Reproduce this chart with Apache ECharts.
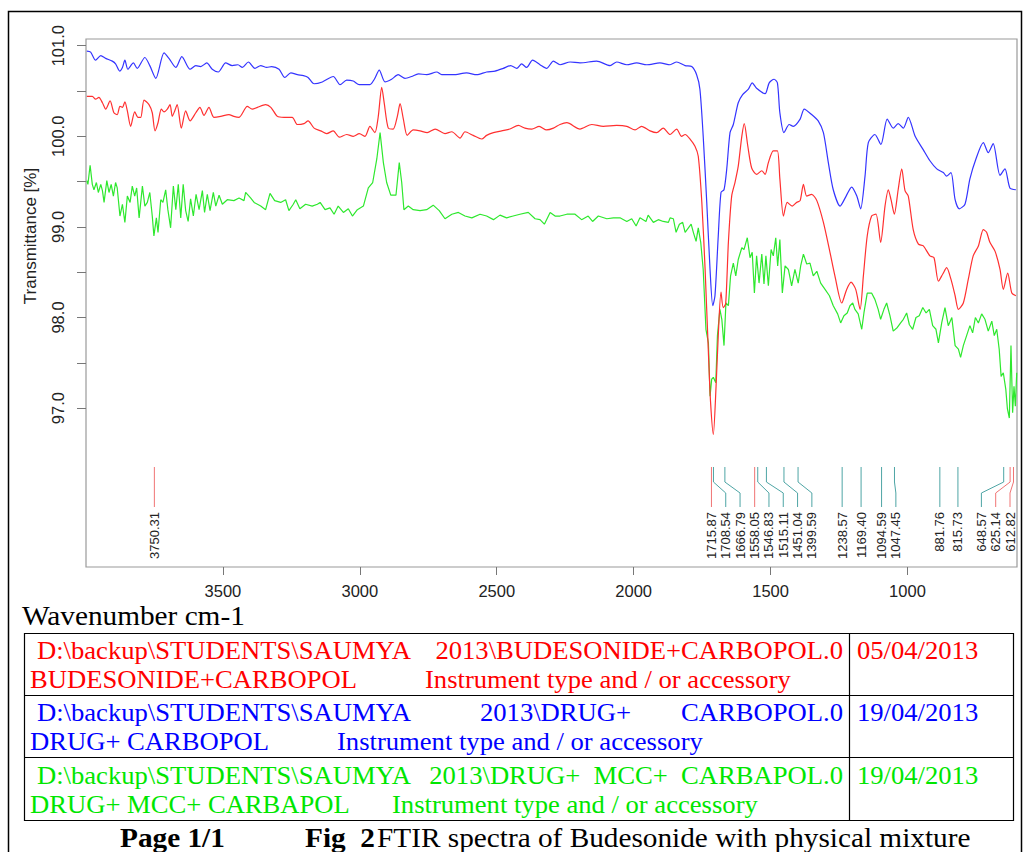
<!DOCTYPE html>
<html>
<head>
<meta charset="utf-8">
<script src="https://cdn.jsdelivr.net/npm/echarts@6/dist/echarts.min.js"></script>
<style>
html,body{margin:0;padding:0;background:#fff;}
#chart{width:1024px;height:852px;}
</style>
</head>
<body>
<div id="chart"></div>
<script>
// ---------- DATA ----------
const xTicks = [1000, 1500, 2000, 2500, 3000, 3500];
const yTicks = [97, 97.5, 98, 98.5, 99, 99.5, 100, 100.5, 101];
const yLabels = [97, 98, 99, 100, 101];

// DRUG+ CARBOPOL (blue)
const blueData = [[3997,100.94],[3983,100.93],[3965,100.84],[3946,100.89],[3928,100.86],[3904,100.83],[3892,100.80],[3877,100.72],[3867,100.76],[3858,100.84],[3847,100.74],[3827,100.81],[3813,100.75],[3785,100.87],[3767,100.78],[3745,100.64],[3715,100.92],[3697,100.86],[3672,100.76],[3650,100.88],[3620,100.74],[3599,100.78],[3581,100.77],[3559,100.81],[3539,100.74],[3517,100.71],[3490,100.81],[3466,100.78],[3445,100.79],[3429,100.76],[3407,100.82],[3383,100.75],[3362,100.78],[3340,100.76],[3322,100.77],[3295,100.74],[3274,100.65],[3252,100.70],[3228,100.68],[3206,100.67],[3189,100.65],[3167,100.58],[3137,100.60],[3097,100.66],[3072,100.57],[3048,100.62],[3024,100.61],[3002,100.57],[2963,100.57],[2947,100.63],[2929,100.73],[2908,100.60],[2884,100.63],[2860,100.68],[2835,100.64],[2811,100.66],[2786,100.69],[2756,100.68],[2719,100.71],[2701,100.68],[2659,100.68],[2610,100.70],[2573,100.68],[2537,100.71],[2506,100.72],[2476,100.75],[2449,100.78],[2427,100.75],[2409,100.80],[2391,100.76],[2369,100.84],[2342,100.79],[2318,100.75],[2293,100.83],[2269,100.79],[2232,100.82],[2196,100.81],[2135,100.83],[2086,100.78],[2062,100.82],[2025,100.79],[1989,100.81],[1952,100.79],[1904,100.81],[1867,100.79],[1843,100.82],[1812,100.78],[1788,100.77],[1770,100.68],[1758,100.52],[1746,100.00],[1733,99.27],[1721,98.53],[1711,98.13],[1703,98.24],[1691,98.90],[1681,99.38],[1670,99.41],[1660,99.64],[1648,100.04],[1636,100.13],[1618,100.37],[1602,100.46],[1581,100.52],[1567,100.59],[1551,100.53],[1520,100.47],[1505,100.59],[1487,100.63],[1475,100.59],[1466,100.26],[1451,100.04],[1432,100.13],[1417,100.11],[1392,100.19],[1377,100.30],[1350,100.24],[1326,100.17],[1307,100.04],[1289,99.71],[1271,99.41],[1246,99.23],[1224,99.34],[1204,99.44],[1185,99.34],[1171,99.20],[1155,99.56],[1143,99.93],[1119,100.02],[1097,99.91],[1074,100.19],[1052,100.09],[1034,100.14],[1015,100.09],[997,100.21],[972,100.00],[942,99.85],[918,99.73],[893,99.64],[869,99.60],[857,99.56],[841,99.60],[826,99.30],[811,99.20],[790,99.25],[772,99.53],[750,99.75],[723,99.93],[705,99.82],[687,99.92],[662,99.57],[644,99.64],[626,99.43],[604,99.41]];

// BUDESONIDE+CARBOPOL (red)
const redData = [[3997,100.44],[3977,100.44],[3965,100.41],[3953,100.43],[3940,100.37],[3928,100.30],[3912,100.39],[3898,100.26],[3886,100.24],[3876,100.33],[3867,100.32],[3858,100.38],[3849,100.28],[3837,100.11],[3822,100.27],[3810,100.21],[3800,100.21],[3788,100.40],[3770,100.35],[3758,100.26],[3748,100.06],[3737,100.15],[3725,100.30],[3715,100.27],[3703,100.30],[3693,100.35],[3685,100.22],[3676,100.28],[3667,100.35],[3652,100.09],[3636,100.28],[3620,100.17],[3599,100.26],[3584,100.32],[3569,100.23],[3551,100.32],[3533,100.21],[3508,100.22],[3478,100.24],[3460,100.22],[3441,100.21],[3411,100.33],[3393,100.30],[3374,100.32],[3344,100.35],[3325,100.32],[3301,100.22],[3277,100.21],[3247,100.21],[3228,100.13],[3204,100.14],[3189,100.17],[3167,100.09],[3143,100.06],[3121,100.03],[3097,100.06],[3075,99.99],[3048,100.02],[3024,100.00],[3002,100.03],[2981,100.00],[2963,100.11],[2945,100.04],[2933,100.21],[2920,100.54],[2911,100.37],[2896,100.09],[2878,100.08],[2863,100.22],[2853,100.36],[2841,100.19],[2827,100.01],[2805,100.07],[2780,100.06],[2754,100.04],[2725,100.08],[2689,100.03],[2664,100.05],[2634,99.98],[2616,100.05],[2586,100.01],[2555,99.97],[2537,100.01],[2512,100.04],[2482,100.06],[2452,100.08],[2421,100.12],[2397,100.09],[2372,100.08],[2345,100.11],[2318,100.07],[2293,100.09],[2269,100.13],[2244,100.15],[2196,100.08],[2153,100.13],[2111,100.11],[2062,100.12],[2025,100.11],[1995,100.07],[1971,100.11],[1940,100.06],[1916,100.04],[1892,100.09],[1867,100.02],[1843,100.08],[1825,100.00],[1812,100.02],[1794,99.97],[1776,99.89],[1764,99.78],[1751,99.27],[1739,98.53],[1727,97.61],[1719,97.06],[1709,96.71],[1699,97.24],[1691,97.80],[1681,98.28],[1673,98.11],[1664,98.15],[1654,98.83],[1642,99.34],[1630,99.49],[1618,99.67],[1605,100.00],[1596,100.14],[1583,99.89],[1569,99.65],[1551,99.58],[1532,99.62],[1520,99.58],[1508,99.71],[1490,99.84],[1475,99.84],[1466,99.53],[1453,99.12],[1439,99.27],[1421,99.23],[1405,99.27],[1392,99.29],[1380,99.47],[1368,99.34],[1350,99.36],[1331,99.29],[1307,99.05],[1283,98.72],[1265,98.46],[1240,98.16],[1222,98.31],[1206,98.39],[1189,98.31],[1173,98.09],[1161,98.46],[1147,98.90],[1131,99.12],[1115,99.14],[1098,98.83],[1082,99.23],[1070,99.41],[1060,99.30],[1048,99.14],[1034,99.41],[1021,99.64],[1009,99.40],[997,99.34],[979,98.97],[960,98.81],[942,98.79],[918,98.68],[903,98.66],[887,98.40],[871,98.48],[857,98.55],[841,98.42],[826,98.24],[814,98.09],[796,98.16],[778,98.42],[760,98.68],[741,98.79],[723,98.97],[711,98.94],[699,98.83],[680,98.73],[662,98.53],[650,98.31],[634,98.49],[619,98.27],[604,98.24]];

// DRUG+ MCC+ CARBAPOL (green)
const greenData = [[3997,99.51],[3993,99.47],[3985,99.68],[3977,99.47],[3971,99.41],[3962,99.49],[3955,99.38],[3946,99.47],[3940,99.40],[3934,99.27],[3924,99.51],[3916,99.38],[3908,99.47],[3900,99.34],[3892,99.49],[3886,99.43],[3876,99.12],[3867,99.25],[3858,99.05],[3849,99.34],[3839,99.27],[3831,99.45],[3822,99.34],[3815,99.43],[3806,99.10],[3794,99.45],[3785,99.23],[3776,99.27],[3767,99.38],[3758,99.12],[3752,98.90],[3743,99.10],[3737,98.94],[3727,99.30],[3719,99.27],[3709,99.41],[3701,99.19],[3691,98.99],[3681,99.45],[3672,99.19],[3663,99.47],[3654,99.10],[3645,99.47],[3636,99.18],[3627,99.06],[3618,99.31],[3608,99.12],[3598,99.36],[3587,99.19],[3575,99.40],[3567,99.16],[3557,99.36],[3547,99.18],[3535,99.38],[3526,99.23],[3514,99.35],[3502,99.25],[3484,99.30],[3460,99.29],[3441,99.32],[3423,99.29],[3417,99.38],[3399,99.32],[3386,99.27],[3362,99.23],[3344,99.19],[3328,99.37],[3311,99.29],[3289,99.27],[3271,99.30],[3259,99.18],[3243,99.25],[3234,99.30],[3219,99.20],[3198,99.25],[3174,99.23],[3155,99.25],[3145,99.27],[3127,99.19],[3109,99.21],[3094,99.14],[3079,99.23],[3060,99.16],[3042,99.20],[3027,99.12],[3009,99.19],[2987,99.23],[2969,99.43],[2953,99.49],[2938,99.75],[2926,100.04],[2914,99.71],[2902,99.49],[2887,99.35],[2868,99.35],[2856,99.71],[2847,99.49],[2839,99.19],[2823,99.23],[2805,99.19],[2780,99.18],[2756,99.19],[2732,99.24],[2710,99.18],[2689,99.09],[2664,99.14],[2640,99.16],[2616,99.12],[2591,99.10],[2561,99.14],[2537,99.12],[2512,99.08],[2488,99.13],[2464,99.10],[2440,99.12],[2415,99.14],[2385,99.16],[2360,99.09],[2342,99.08],[2326,99.03],[2305,99.16],[2287,99.12],[2269,99.12],[2244,99.14],[2214,99.14],[2190,99.08],[2166,99.12],[2150,99.06],[2129,99.12],[2098,99.09],[2074,99.10],[2050,99.10],[2025,99.06],[2007,99.09],[1991,99.01],[1977,99.10],[1955,99.06],[1947,99.13],[1928,99.05],[1910,99.08],[1892,99.06],[1873,99.05],[1867,99.10],[1855,99.09],[1845,98.94],[1833,99.03],[1821,99.05],[1812,98.94],[1800,98.99],[1790,99.03],[1782,98.94],[1772,98.84],[1764,98.99],[1755,98.83],[1746,98.53],[1736,97.87],[1727,97.72],[1721,97.13],[1715,97.32],[1709,97.34],[1700,97.28],[1694,97.80],[1685,98.09],[1678,97.98],[1670,97.69],[1663,98.16],[1654,98.13],[1646,98.46],[1636,98.60],[1627,98.46],[1618,98.64],[1605,98.77],[1597,98.75],[1585,98.88],[1575,98.66],[1567,98.72],[1559,98.27],[1551,98.68],[1542,98.38],[1532,98.70],[1524,98.37],[1517,98.68],[1508,98.35],[1498,98.75],[1490,98.68],[1481,98.88],[1474,98.57],[1466,98.86],[1457,98.27],[1447,98.57],[1435,98.53],[1423,98.35],[1411,98.53],[1399,98.38],[1390,98.57],[1380,98.70],[1368,98.59],[1356,98.60],[1344,98.46],[1331,98.51],[1317,98.38],[1301,98.31],[1285,98.24],[1271,98.13],[1255,98.04],[1244,97.94],[1232,98.02],[1220,98.05],[1210,98.13],[1200,98.16],[1192,98.09],[1180,98.04],[1167,97.87],[1159,98.05],[1147,98.27],[1131,98.27],[1119,98.20],[1107,98.09],[1098,97.98],[1086,98.09],[1076,98.16],[1064,98.02],[1052,97.85],[1037,97.89],[1025,97.94],[1015,97.98],[1003,98.05],[993,97.92],[981,97.87],[969,98.00],[957,98.02],[944,98.11],[932,98.05],[920,98.09],[908,97.91],[896,97.87],[887,97.72],[875,97.94],[863,98.11],[851,97.91],[838,98.00],[826,97.69],[814,97.65],[806,97.56],[796,97.69],[784,97.80],[772,97.91],[762,97.83],[752,98.00],[741,97.94],[729,98.04],[717,97.98],[705,97.85],[692,97.96],[683,97.80],[674,97.87],[665,97.65],[658,97.35],[650,97.39],[641,97.21],[635,96.99],[628,96.89],[622,97.69],[616,96.95],[611,97.24],[606,97.02],[601,97.39]];

// peak picks (wavenumber, marker colour group)
const peaks = [3750.31, 1715.87, 1708.54, 1666.79, 1558.05, 1546.83, 1515.11, 1451.04, 1399.59, 1238.57, 1169.40, 1094.59, 1047.45, 881.76, 815.73, 648.57, 625.14, 612.82];
const peakGroups = ['r','r','t','t','r','t','t','t','t','t','t','t','t','t','t','t','r','r'];

// ---------- CHART ----------
const chart = echarts.init(document.getElementById('chart'), null, {renderer: 'svg'});
const SERIF = '"Liberation Serif", "Times New Roman", serif';
const SANS = '"Liberation Sans", Arial, sans-serif';
const groupColor = {r: '#f07474', t: '#4ea5a5'};

function peakRender(params, api) {
  const cs = params.coordSys;
  const idx = params.dataIndex;
  const B = cs.y + cs.height;
  const right = cs.x + cs.width;
  const xs = peaks.map(p => api.coord([p, 96])[0]);
  const order = xs.map((x, i) => i).sort((a, b) => xs[a] - xs[b]);
  const gap = 14.3;
  const lab = new Array(xs.length);
  let prev = -Infinity;
  order.forEach(i => { lab[i] = Math.max(xs[i], prev + gap); prev = lab[i]; });
  let next = right - 7 + gap;
  for (let k = order.length - 1; k >= 0; k--) {
    const i = order[k];
    lab[i] = Math.min(lab[i], next - gap);
    next = lab[i];
  }
  const x = xs[idx], lx = lab[idx];
  const color = groupColor[peakGroups[idx]];
  return {
    type: 'group',
    children: [
      {type: 'polyline', shape: {points: [[x, B - 100], [x, B - 85], [lx, B - 74], [lx, B - 60]]},
       style: {stroke: color, lineWidth: 1, fill: null}},
      {type: 'text', x: lx, y: B - 55, rotation: Math.PI / 2,
       style: {text: peaks[idx].toFixed(2), fill: '#222', font: '13px ' + SANS,
               align: 'right', textAlign: 'right', verticalAlign: 'middle', textVerticalAlign: 'middle'}}
    ]
  };
}

function serifText(txt, x, y, color, size, opts) {
  opts = opts || {};
  return {
    type: 'text', x: x, y: y, scaleX: opts.sx || 1.065, scaleY: 1,
    style: {text: txt, fill: color, font: (opts.bold ? 'bold ' : '') + size + 'px ' + SERIF,
            textAlign: opts.align || 'left', textVerticalAlign: 'middle'}
  };
}

const RED = '#ff0000', BLUE = '#0000ff', GREEN = '#00e600';
const tL = 24, tR = 1013, tC = 849, rows = [633, 695, 757, 820];
const graphics = [
  {type: 'rect', shape: {x: 8.5, y: 11.5, width: 1013, height: 900}, style: {fill: null, stroke: '#000', lineWidth: 1.5}},
  {type: 'rect', shape: {x: tL + 0.5, y: rows[0] + 0.5, width: tR - tL, height: rows[3] - rows[0]}, style: {fill: null, stroke: '#000', lineWidth: 1.2}},
  {type: 'line', shape: {x1: tL, y1: rows[1] + 0.5, x2: tR, y2: rows[1] + 0.5}, style: {stroke: '#000', lineWidth: 1.2}},
  {type: 'line', shape: {x1: tL, y1: rows[2] + 0.5, x2: tR, y2: rows[2] + 0.5}, style: {stroke: '#000', lineWidth: 1.2}},
  {type: 'line', shape: {x1: tC + 0.5, y1: rows[0], x2: tC + 0.5, y2: rows[3]}, style: {stroke: '#000', lineWidth: 1.2}},
  {type: 'text', x: 30, y: 236, rotation: Math.PI / 2,
   style: {text: 'Transmittance [%]', fill: '#222', font: '17px ' + SANS, textAlign: 'center', textVerticalAlign: 'middle'}},
  serifText('Wavenumber cm-1', 22, 616, '#000', 27.5),
  serifText('D:\\backup\\STUDENTS\\SAUMYA', 37, 651, RED, 25),
  serifText('2013\\BUDESONIDE+CARBOPOL.0', 843, 651, RED, 25, {align: 'right'}),
  serifText('BUDESONIDE+CARBOPOL', 30, 680, RED, 25),
  serifText('Instrument type and / or accessory', 425, 680, RED, 25),
  serifText('05/04/2013', 857, 651, RED, 25),
  serifText('D:\\backup\\STUDENTS\\SAUMYA', 37, 713, BLUE, 25),
  serifText('2013\\DRUG+', 480, 713, BLUE, 25),
  serifText('CARBOPOL.0', 843, 713, BLUE, 25, {align: 'right'}),
  serifText('DRUG+ CARBOPOL', 30, 742, BLUE, 25),
  serifText('Instrument type and / or accessory', 337, 742, BLUE, 25),
  serifText('19/04/2013', 857, 713, BLUE, 25),
  serifText('D:\\backup\\STUDENTS\\SAUMYA', 37, 776, GREEN, 25),
  serifText('2013\\DRUG+  MCC+  CARBAPOL.0', 843, 776, GREEN, 25, {align: 'right'}),
  serifText('DRUG+ MCC+ CARBAPOL', 30, 805, GREEN, 25),
  serifText('Instrument type and / or accessory', 392, 805, GREEN, 25),
  serifText('19/04/2013', 857, 776, GREEN, 25),
  serifText('Page 1/1', 120, 838, '#000', 27.5, {bold: true}),
  serifText('Fig  2', 305, 838, '#000', 27.5, {bold: true}),
  serifText('FTIR spectra of Budesonide with physical mixture', 377, 838, '#000', 27.5)
];

const lineSeries = (name, data, color, smooth) => ({
  name: name, type: 'line', data: data, showSymbol: false, smooth: smooth,
  lineStyle: {color: color, width: 1.2}, itemStyle: {color: color}, z: 3, silent: true
});

chart.setOption({
  animation: false,
  backgroundColor: '#fff',
  grid: {left: 86, top: 39, right: 7, bottom: 285, show: true, borderColor: '#9a9a9a', borderWidth: 1.2,
         backgroundColor: 'transparent', outerBoundsMode: 'none', containLabel: false},
  xAxis: {
    type: 'value', inverse: true, min: 600, max: 4000,
    axisLine: {show: false}, splitLine: {show: false},
    axisTick: {show: true, customValues: xTicks, length: 8, lineStyle: {color: '#777'}},
    axisLabel: {customValues: xTicks, fontSize: 16.5, color: '#222', margin: 15, fontFamily: SANS,
                formatter: v => String(Math.round(v))}
  },
  yAxis: {
    type: 'value', min: 95.246, max: 101.074,
    axisLine: {show: false}, splitLine: {show: false},
    axisTick: {show: true, customValues: yTicks, length: 9, lineStyle: {color: '#777'}},
    axisLabel: {customValues: yLabels, rotate: 90, fontSize: 16.5, color: '#222', margin: 20, fontFamily: SANS,
                formatter: v => Number(v).toFixed(1)}
  },
  series: [
    lineSeries('DRUG+ MCC+ CARBAPOL', greenData, '#2ee82e', false),
    lineSeries('BUDESONIDE+CARBOPOL', redData, '#ff3030', 0.25),
    lineSeries('DRUG+ CARBOPOL', blueData, '#3434ff', 0.25),
    {type: 'custom', coordinateSystem: 'cartesian2d', renderItem: peakRender, clip: false, silent: true,
     data: peaks.map(p => [p, 96]), encode: {x: 0, y: 1}, z: 2}
  ],
  graphic: graphics
});
</script>
</body>
</html>
